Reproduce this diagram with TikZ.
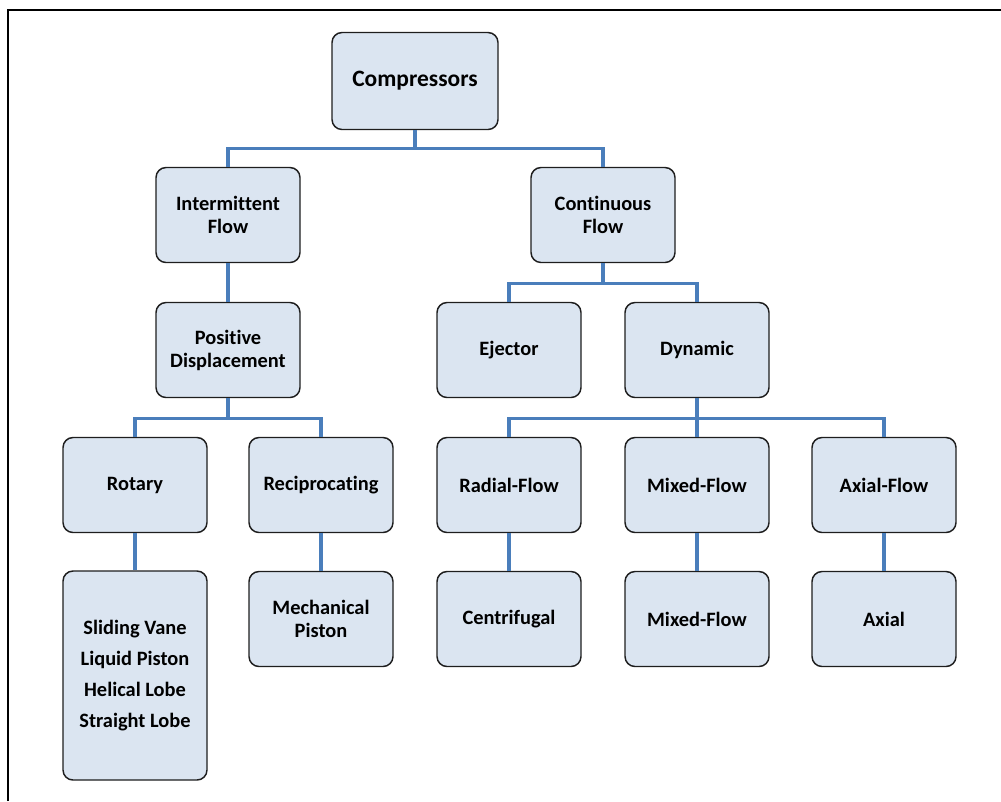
\documentclass[tikz,border=0pt]{standalone}
\usepackage{fontspec}
\setmainfont{Carlito}[Ligatures=NoCommon]
\usetikzlibrary{positioning}
\definecolor{boxfill}{RGB}{219, 229, 241}
\definecolor{boxline}{RGB}{30, 30, 30}
\definecolor{linkblue}{RGB}{74, 126, 187}

\begin{document}
\begin{tikzpicture}[x=0.75pt, y=-0.75pt,
    box/.style={draw=boxline, fill=boxfill, line width=1.1pt, rounded corners=7.5pt,
        minimum width=108pt, minimum height=71.25pt, align=center,
        font=\fontsize{15.3}{17.2}\selectfont\bfseries},
    link/.style={draw=linkblue, line width=2.3pt}]
    \useasboundingbox (0,0) rectangle (1001,801);
    % outer frame, only top and left edges show
    \draw[line width=2.2pt] (8,801) -- (8,10) -- (1001,10);

    % root and first level
    \node[box, minimum width=124.5pt, minimum height=72.75pt,
          font=\fontsize{17.6}{20}\selectfont\bfseries] (comp) at (415,81) {Compressors};
    \node[box] (inter) at (228,215) {Intermittent\\Flow};
    \node[box] (cont) at (603,215) {Continuous\\Flow};

    % second level
    \node[box] (posdisp) at (228,350) {Positive\\Displacement};
    \node[box] (ejector) at (509,350) {Ejector};
    \node[box] (dynamic) at (697,350) {Dynamic};

    % third level
    \node[box] (rotary) at (135,485) {Rotary};
    \node[box] (recip) at (321,485) {Reciprocating};
    \node[box] (radial) at (509,485) {Radial-Flow};
    \node[box] (mixed) at (697,485) {Mixed-Flow};
    \node[box] (axial) at (884,485) {Axial-Flow};

    % leaves
    \node[box, minimum height=156.75pt, font=\fontsize{15.3}{23.2}\selectfont\bfseries]
        (rotlist) at (135,675.5) {Sliding Vane\\Liquid Piston\\Helical Lobe\\Straight Lobe};
    \node[box] (mechpist) at (321,619) {Mechanical\\Piston};
    \node[box] (centrif) at (509,619) {Centrifugal};
    \node[box] (mixedleaf) at (697,619) {Mixed-Flow};
    \node[box] (axialleaf) at (884,619) {Axial};

    % connectors
    \draw[link] (comp.south) -- +(0,18) -| (inter.north);
    \draw[link] (comp.south) -- +(0,18) -| (cont.north);
    \draw[link] (inter.south) -- (posdisp.north);
    \draw[link] (cont.south) -- +(0,20) -| (ejector.north);
    \draw[link] (cont.south) -- +(0,20) -| (dynamic.north);
    \draw[link] (posdisp.south) -- +(0,20) -| (rotary.north);
    \draw[link] (posdisp.south) -- +(0,20) -| (recip.north);
    \draw[link] (dynamic.south) -- +(0,20) -| (radial.north);
    \draw[link] (dynamic.south) -- (mixed.north);
    \draw[link] (dynamic.south) -- +(0,20) -| (axial.north);
    \draw[link] (rotary.south) -- (rotlist.north);
    \draw[link] (recip.south) -- (mechpist.north);
    \draw[link] (radial.south) -- (centrif.north);
    \draw[link] (mixed.south) -- (mixedleaf.north);
    \draw[link] (axial.south) -- (axialleaf.north);
\end{tikzpicture}
\end{document}
